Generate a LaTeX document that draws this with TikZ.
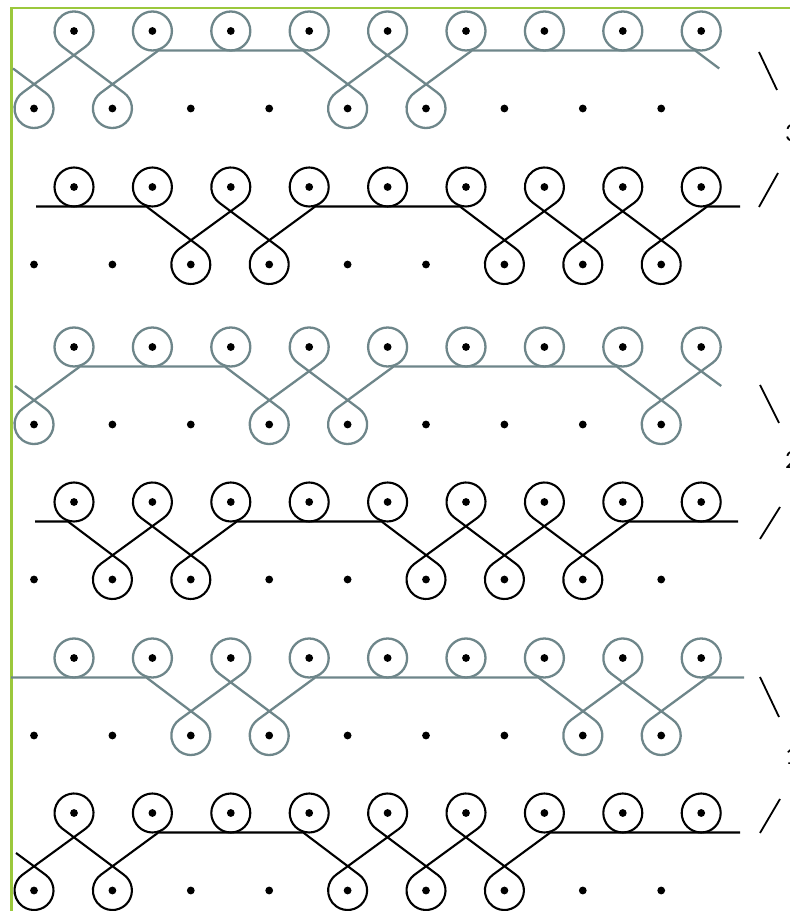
\documentclass[tikz,border=0pt]{standalone}
\usepackage{fontspec}
\setmainfont{Carlito}
\usetikzlibrary{calc}
\definecolor{kgrey}{RGB}{110,134,138}
\definecolor{kgreen}{RGB}{155,200,60}

\begin{document}
\begin{tikzpicture}[x=1pt, y=1pt,
  gline/.style={draw=kgrey, line width=2.3pt},
  kline/.style={draw=black, line width=2.1pt},
  slash/.style={draw=black, line width=1.8pt},
  bl/.style={insert path={-- ($(#1)+(54:19.5)$) arc[start angle=54, end angle=-234, radius=19.5]}},
  tl/.style={insert path={-- ($(#1)+(-54:19.5)$) arc[start angle=-54, end angle=234, radius=19.5]}},
  digit/.style={font=\fontsize{26}{28}\selectfont, anchor=west, inner sep=0pt}]
  \useasboundingbox (0,0) rectangle (790,911);
  \clip (0,0) rectangle (790,911);
  \draw[kgreen, line width=2.4pt] (11.5,-2) -- (11.5,903) -- (792,903);
  \foreach \k/\y in {0/880,1/724,2/564,3/409,4/253,5/98}
    \foreach \i in {0,...,8} {
      \coordinate (t\k\i) at ({74+78.4*\i},\y);
      \coordinate (b\k\i) at ({34+78.4*\i},\y-77.5);
      \fill (t\k\i) circle (3.9);
      \fill (b\k\i) circle (3.9);
    }

  \draw[gline] ($(b00)+(-21,40)$) [bl=b00] [tl=t00] [bl=b01] -- ($(t01)+(6,-19.5)$) -- ($(t03)+(-6,-19.5)$) [bl=b04] [tl=t04] [bl=b05] -- ($(t05)+(6,-19.5)$) -- ($(t08)+(-6,-19.5)$) -- ($(t08)+(18,-37.5)$);
  \foreach \i in {1,2,3,5,6,7,8} \draw[gline] (t0\i) circle[radius=19.5];

  \draw[kline] ($(t10)+(-38,-19.5)$) -- ($(t11)+(-6,-19.5)$) [bl=b12] [tl=t12] [bl=b13] -- ($(t13)+(6,-19.5)$) -- ($(t15)+(-6,-19.5)$) [bl=b16] [tl=t16] [bl=b17] [tl=t17] [bl=b18] -- ($(t18)+(6,-19.5)$) -- ($(t18)+(39,-19.5)$);
  \foreach \i in {0,1,3,4,5,8} \draw[kline] (t1\i) circle[radius=19.5];

  \draw[gline] ($(b20)+(-19,38.5)$) [bl=b20] -- ($(t20)+(6,-19.5)$) -- ($(t22)+(-6,-19.5)$) [bl=b23] [tl=t23] [bl=b24] -- ($(t24)+(6,-19.5)$) -- ($(t27)+(-6,-19.5)$) [bl=b28] [tl=t28] -- ($(t28)+(20,-39)$);
  \foreach \i in {0,1,2,4,5,6,7} \draw[gline] (t2\i) circle[radius=19.5];

  \draw[kline] ($(t30)+(-39,-19.5)$) -- ($(t30)+(-6,-19.5)$) [bl=b31] [tl=t31] [bl=b32] -- ($(t32)+(6,-19.5)$) -- ($(t34)+(-6,-19.5)$) [bl=b35] [tl=t35] [bl=b36] [tl=t36] [bl=b37] -- ($(t37)+(6,-19.5)$) -- ($(t38)+(37,-19.5)$);
  \foreach \i in {0,2,3,4,7,8} \draw[kline] (t3\i) circle[radius=19.5];

  \draw[gline] ($(t40)+(-63,-19.5)$) -- ($(t41)+(-6,-19.5)$) [bl=b42] [tl=t42] [bl=b43] -- ($(t43)+(6,-19.5)$) -- ($(t46)+(-6,-19.5)$) [bl=b47] [tl=t47] [bl=b48] -- ($(t48)+(6,-19.5)$) -- ($(t48)+(43,-19.5)$);
  \foreach \i in {0,1,3,4,5,6,8} \draw[gline] (t4\i) circle[radius=19.5];

  \draw[kline] ($(b50)+(-18,37.5)$) [bl=b50] [tl=t50] [bl=b51] -- ($(t51)+(6,-19.5)$) -- ($(t53)+(-6,-19.5)$) [bl=b54] [tl=t54] [bl=b55] [tl=t55] [bl=b56] -- ($(t56)+(6,-19.5)$) -- ($(t58)+(39,-19.5)$);
  \foreach \i in {1,2,3,6,7,8} \draw[kline] (t5\i) circle[radius=19.5];

  \draw[slash] (759,859) -- (777,821);
  \draw[slash] (778,738) -- (759,704);
  \node[digit] (n3) at (785,778) {3};
  \draw[slash] (760,526) -- (779,488);
  \draw[slash] (780,404) -- (760,372);
  \node[digit] (n2) at (785,451) {2};
  \draw[slash] (760,234) -- (779,194);
  \draw[slash] (780,112) -- (760,78);
  \node[digit] (n1) at (785,155) {1};
\end{tikzpicture}
\end{document}
